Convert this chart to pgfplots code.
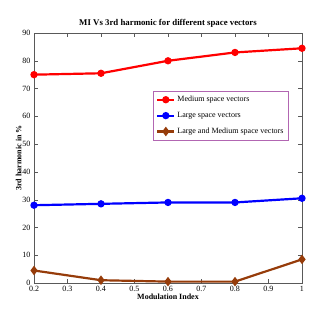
\documentclass[border=0pt]{standalone}
\usepackage{fontspec}
\setmainfont{Liberation Serif}
\usepackage{pgfplots}
\pgfplotsset{compat=1.18}
\definecolor{brn}{RGB}{150,60,10}
\begin{document}
\begin{tikzpicture}
\path[use as bounding box] (-34pt,-35pt) rectangle (275pt,283pt);
\begin{axis}[
  scale only axis, width=268pt, height=250pt,
  xmin=0.2, xmax=1, ymin=0, ymax=90,
  xtick={0.2,0.3,...,1.0}, ytick={0,10,...,90},
  xticklabel style={/pgf/number format/fixed},
  /pgf/number format/assume math mode=true,
  tick label style={font=\footnotesize},
  axis line style={gray!70!black},
  tick style={gray!70!black},
  tick align=inside,
  title={\textbf{MI Vs 3rd harmonic for different space vectors}},
  title style={font=\fontsize{8.8}{10}\selectfont, yshift=-4pt},
  xlabel={\textbf{Modulation Index}},
  ylabel={\textbf{3rd harmonic in \%}},
  label style={font=\footnotesize},
  xlabel style={yshift=5pt},
  ylabel style={yshift=-6pt},
  legend style={at={(0.444,0.768)}, anchor=north west, font=\footnotesize, draw=violet!60, inner sep=3pt, row sep=5pt},
  legend cell align=left,
]
\addplot[red, line width=2.2pt, mark=*, mark size=2.5pt] coordinates {(0.2,75) (0.4,75.5) (0.6,80) (0.8,83) (1,84.5)};
\addlegendentry{Medium space vectors}
\addplot[blue, line width=2.2pt, mark=*, mark size=2.5pt] coordinates {(0.2,28) (0.4,28.5) (0.6,29) (0.8,29) (1,30.5)};
\addlegendentry{Large space vectors}
\addplot[brn, line width=2.2pt, mark=diamond*, mark size=3pt] coordinates {(0.2,4.5) (0.4,1) (0.6,0.5) (0.8,0.5) (1,8.5)};
\addlegendentry{Large and Medium space vectors}
\end{axis}
\end{tikzpicture}
\end{document}
